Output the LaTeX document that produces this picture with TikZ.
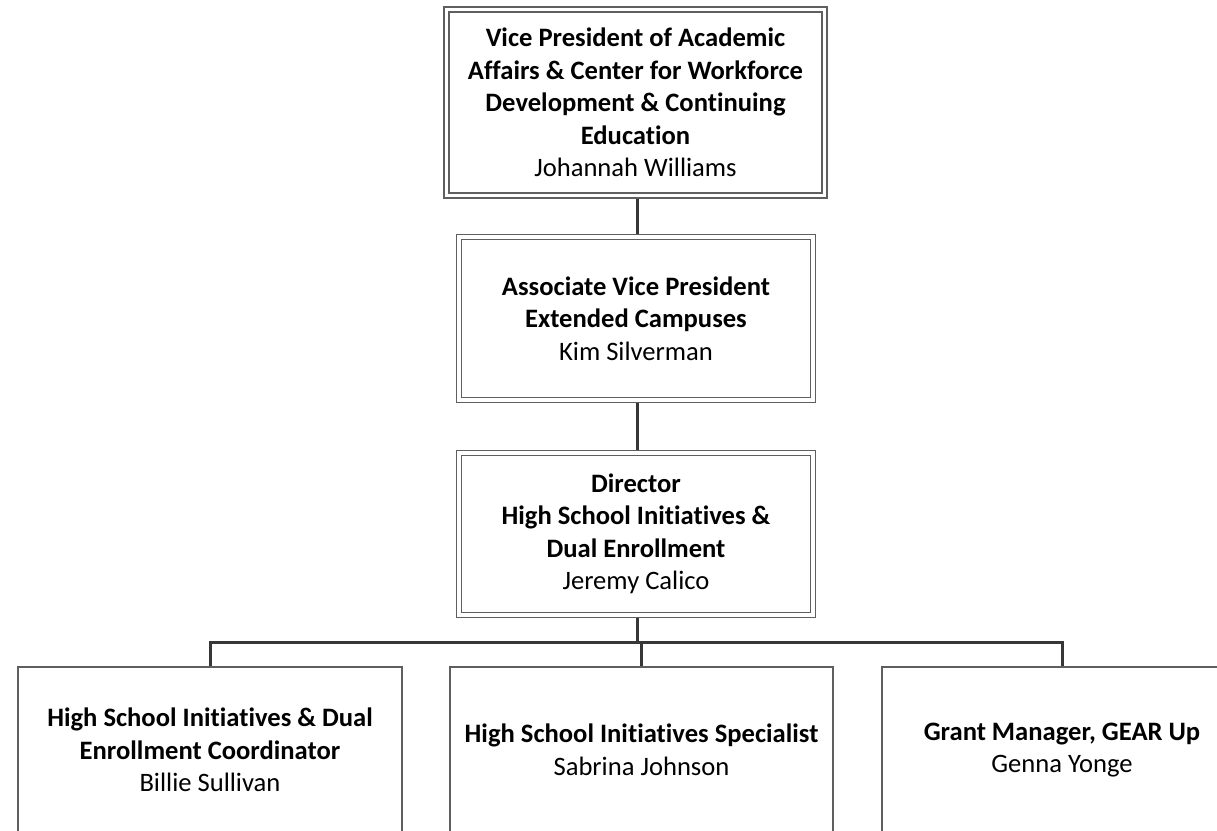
\documentclass[tikz,border=0pt]{standalone}
\usepackage{fontspec}
\setmainfont[Ligatures=NoCommon]{Carlito}
\usetikzlibrary{backgrounds}
\definecolor{boxline}{RGB}{95,95,95}
\definecolor{conn}{RGB}{55,55,55}
\tikzset{
  dbox/.style={draw=boxline, line width=1.2pt, double=white, double distance=3.8pt,
    fill=white, align=center, inner sep=0pt,
    font=\fontsize{26.6}{32.5}\selectfont},
  sbox/.style={draw=boxline, line width=1.3pt, fill=white, align=center, inner sep=0pt,
    font=\fontsize{26.6}{32.5}\selectfont},
  link/.style={draw=conn, line width=3pt}
}
\begin{document}
\begin{tikzpicture}[x=1pt,y=-1pt]
\clip (0,0) rectangle (1217,830);
\node[dbox, minimum width=378pt, minimum height=186pt] (vp) at (635.5,102.5)
  {\textbf{Vice President of Academic}\\\textbf{Affairs \& Center for Workforce}\\\textbf{Development \& Continuing}\\\textbf{Education}\\Johannah Williams};
\node[dbox, minimum width=354pt, minimum height=163pt] (avp) at (636,318.5)
  {\textbf{Associate Vice President}\\\textbf{Extended Campuses}\\Kim Silverman};
\node[dbox, minimum width=354pt, minimum height=162pt] (dir) at (636,534)
  {\textbf{Director}\\\textbf{High School Initiatives \&}\\\textbf{Dual Enrollment}\\Jeremy Calico};
\node[sbox, minimum width=384pt, minimum height=166pt] (coord) at (210,750)
  {\textbf{High School Initiatives \& Dual}\\\textbf{Enrollment Coordinator}\\Billie Sullivan};
\node[sbox, minimum width=383pt, minimum height=166pt] (spec) at (641.5,750)
  {\textbf{High School Initiatives Specialist}\\Sabrina Johnson};
\node[sbox, minimum width=360pt, minimum height=166pt] (grant) at (1062,750)
  {\textbf{Grant Manager, GEAR Up}\\Genna Yonge};
\coordinate (bus) at (637,642);
\begin{scope}[on background layer]
  \fill[white] (0,0) rectangle (1217,830);
  \draw[link] (vp.south -| 637,0) -- (avp.north -| 637,0);
  \draw[link] (avp.south -| 637,0) -- (dir.north -| 637,0);
  \draw[link] (dir.south -| 637,0) -- (bus);
  \draw[link] (coord.north) -- (coord.north |- bus) -- (grant.north |- bus) -- (grant.north);
  \draw[link] (spec.north |- bus) -- (spec.north);
\end{scope}
\end{tikzpicture}
\end{document}
